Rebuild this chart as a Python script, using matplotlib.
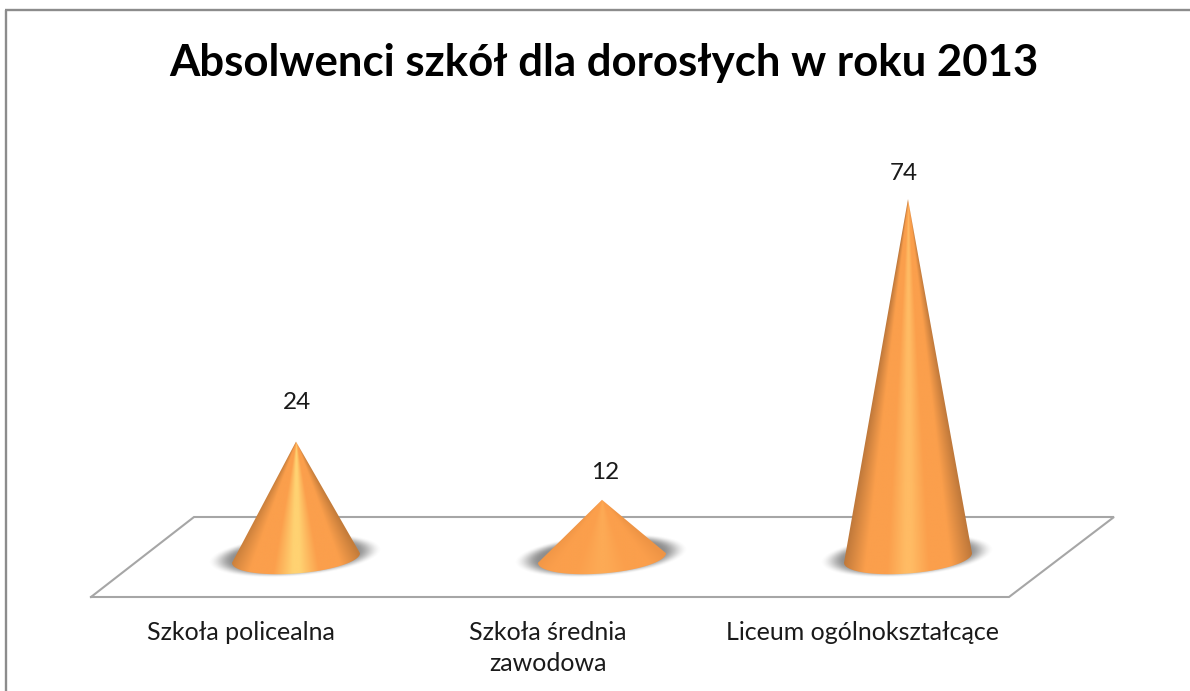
import numpy as np
import matplotlib
matplotlib.use("Agg")
import matplotlib.pyplot as plt
from matplotlib.colors import to_rgb
from matplotlib.path import Path
from matplotlib.patches import PathPatch

categories = ["Szkoła policealna", "Szkoła średnia\nzawodowa", "Liceum ogólnokształcące"]
values = [24, 12, 74]
title = "Absolwenci szkół dla dorosłych w roku 2013"

# cone colours, centre highlight / side / edge
highlights = ["#ffd272", "#fdaa55", "#ffbb64"]
sides = ["#fb9f4c", "#fb9f4c", "#fb9f4c"]
edges = ["#c47c3a", "#ee9445", "#bd773a"]

# label offsets in pixels from the cone axis
value_dx = [1, 3, -4]
value_dy = [39, 27, 26]
label_dx = [-55, -54, -46]

W, H = 1190, 691
base_px = 558
unit_px = 4.85
first_px = 296
step_px = 306

plt.rcParams["font.family"] = ["Lato", "DejaVu Sans"]

fig = plt.figure(figsize=(W / 100, H / 100), dpi=100)
ax = fig.add_axes([0, 0, 1, 1])
ax.axis("off")


def px(x, y):
    # pixel position -> data position, only for the chrome around the cones
    return (x - first_px) / step_px, (base_px - y) / unit_px


# frame
for a, b in [((6, 691), (6, 10)), ((5, 10), (1190, 10))]:
    p0, p1 = px(*a), px(*b)
    ax.plot([p0[0], p1[0]], [p0[1], p1[1]], color="#8c8c8c", lw=1.7, solid_capstyle="butt", zorder=1)

# floor
floor = np.array([px(91, 597), px(1009, 597), px(1114, 517), px(194, 517), px(91, 597)])
ax.plot(floor[:, 0], floor[:, 1], color="#a6a6a6", lw=1.5, solid_joinstyle="miter", zorder=2)

rx_px, ry_px, tilt = 64, 15.5, -0.075
rx = rx_px / step_px
ry = ry_px / unit_px


def shadow(i):
    xs = np.linspace(i - 0.32, i + 0.32, 300)
    ys = np.linspace(-6, 6, 80)
    X, Y = np.meshgrid(xs, ys)
    dx = (X - i + 0.003) * step_px
    dy = -(Y - 0.4) * unit_px - tilt * dx
    d = np.sqrt((dx / 87.0) ** 2 + (dy / 21.0) ** 2)
    a = np.clip((1.0 - d) / 0.3, 0, 1)
    a = a * a * (3 - 2 * a) * 0.66
    rgba = np.zeros(X.shape + (4,))
    rgba[..., :3] = 0.33
    rgba[..., 3] = a
    ax.imshow(rgba, extent=(xs[0], xs[-1], ys[0], ys[-1]), origin="lower",
              aspect="auto", zorder=3, interpolation="bilinear")


def cone(i, v):
    t = np.linspace(np.pi, 2 * np.pi, 80)
    ex = i + rx * np.cos(t)
    ey = ry * np.sin(t) - tilt * rx_px * np.cos(t) / unit_px
    verts = [(i, v)] + list(zip(ex, ey)) + [(i, v)]
    codes = [Path.MOVETO] + [Path.LINETO] * (len(verts) - 2) + [Path.CLOSEPOLY]
    clip = PathPatch(Path(verts, codes), fc="none", ec="none", transform=ax.transData)
    ax.add_patch(clip)

    xs = np.linspace(i - rx - 0.01, i + rx + 0.01, 260)
    ys = np.linspace(-ry - 1, v + 0.2, 500)
    X, Y = np.meshgrid(xs, ys)
    # shading runs around the cone, so work out the fraction along each slant
    u = np.clip((X - i) / (rx * np.maximum(v - Y, 0.01) / v), -1, 1)
    hi, side, edge = to_rgb(highlights[i]), to_rgb(sides[i]), to_rgb(edges[i])
    stops = [-1.0, -0.65, -0.32, -0.05, 0.05, 0.32, 0.65, 1.0]
    rgb = np.array([edge, side, side, hi, hi, side, side, edge])
    img = np.stack([np.interp(u, stops, rgb[:, k]) for k in range(3)], axis=-1)
    im = ax.imshow(img, extent=(xs[0], xs[-1], ys[0], ys[-1]), origin="lower",
                   aspect="auto", zorder=4, interpolation="bilinear")
    im.set_clip_path(clip)


for i, v in enumerate(values):
    shadow(i)
    cone(i, v)
    ax.text(i + value_dx[i] / step_px, v + value_dy[i] / unit_px, str(v), ha="center", va="center",
            fontsize=17.5, color="#1a1a1a", zorder=6)

# imshow resets limits
ax.set_xlim(-first_px / step_px, (W - first_px) / step_px)
ax.set_ylim((base_px - H) / unit_px, base_px / unit_px)

_, label_y = px(0, 621)
for i, c in enumerate(categories):
    ax.text(i + label_dx[i] / step_px, label_y, c, ha="center", va="top", fontsize=18,
            color="#1a1a1a", linespacing=1.42, zorder=6)

tx, ty = px(604, 63)
ax.text(tx, ty, title, ha="center", va="center", fontsize=31.5, fontweight="bold",
        color="black", zorder=6)

fig.savefig("out.png", dpi=100)
